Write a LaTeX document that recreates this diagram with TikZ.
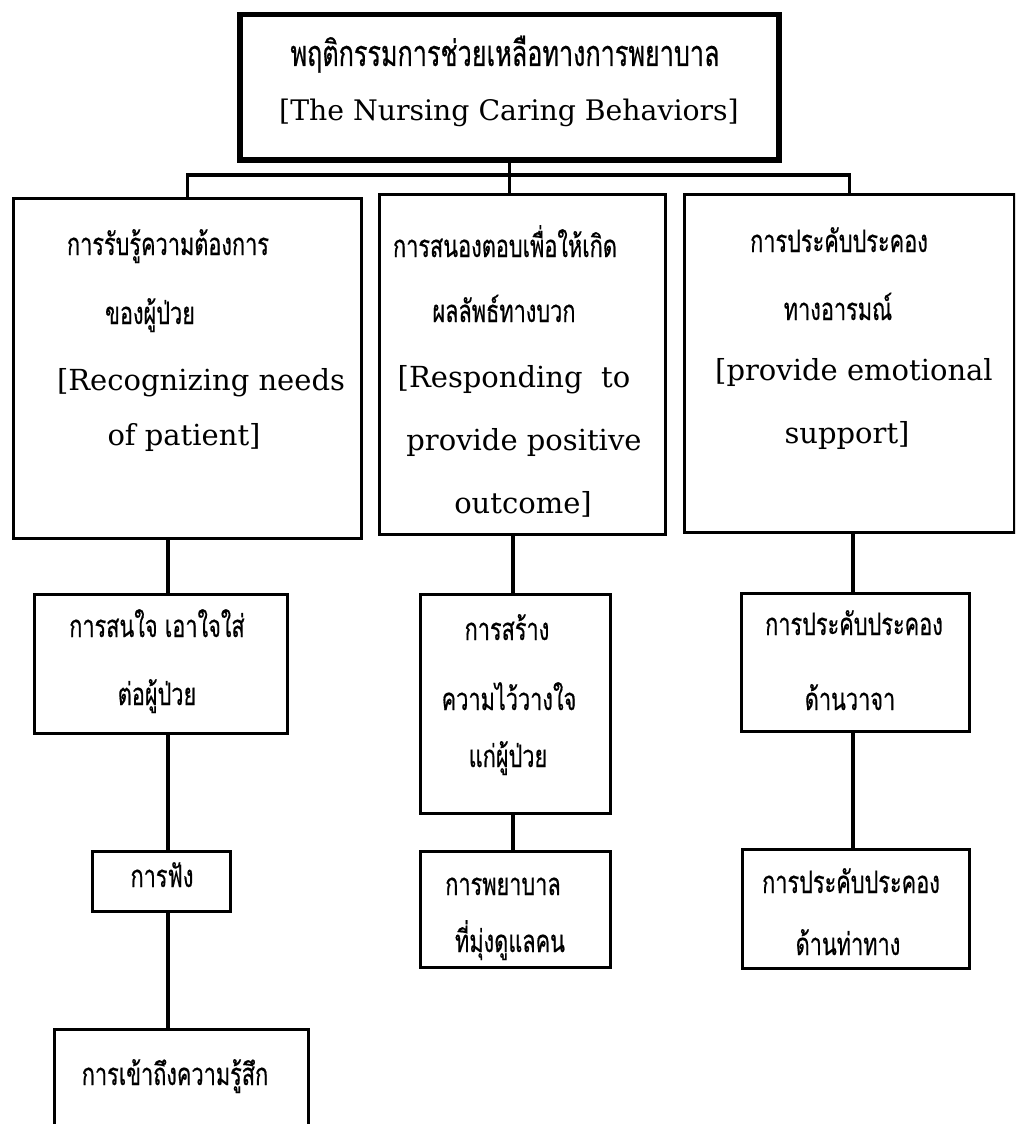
\documentclass[tikz,border=0pt]{standalone}
\usepackage{fontspec}
\setmainfont{DejaVu Serif}
\newfontfamily\thaifont[Script=Thai,FakeStretch=0.7,FakeBold=0.5]{Loma}
\tikzset{
  box/.style={draw, line width=3.2pt, anchor=north west, inner sep=0pt},
  th/.style={font=\thaifont\fontsize{31}{34}\selectfont, anchor=base, inner sep=0pt},
  en/.style={font=\fontsize{29}{34}\selectfont, anchor=base, inner sep=0pt},
  link/.style={line width=3.2pt},
}
\begin{document}
\begin{tikzpicture}[x=1pt,y=-1pt]
  \useasboundingbox (0,0) rectangle (1015,1124);
  \clip (0,0) rectangle (1015,1124);
  % boxes
  \node[box, line width=5.5pt, minimum width=539pt, minimum height=145pt] (top) at (237,12) {};
  \node[box, minimum width=348pt, minimum height=340pt] (recog) at (12,197) {};
  \node[box, minimum width=286pt, minimum height=340pt] (resp) at (378,193) {};
  \node[box, minimum width=330pt, minimum height=338pt] (emo) at (683,193) {};
  \node[box, minimum width=253pt, minimum height=139pt] (attend) at (33,593) {};
  \node[box, minimum width=190pt, minimum height=219pt] (trust) at (419,593) {};
  \node[box, minimum width=228pt, minimum height=138pt] (verbal) at (740,592) {};
  \node[box, minimum width=138pt, minimum height=60pt] (listen) at (91,850) {};
  \node[box, minimum width=190pt, minimum height=116pt] (nursing) at (419,850) {};
  \node[box, minimum width=227pt, minimum height=119pt] (gesture) at (741,848) {};
  \node[box, minimum width=254pt, minimum height=140pt] (feel) at (53,1028) {};
  % texts
  \node[th, font=\thaifont\fontsize{36}{40}\selectfont] (topth) at (505,66) {พฤติกรรมการช่วยเหลือทางการพยาบาล};
  \node[en, font=\fontsize{28.3}{34}\selectfont] (topen) at (509,120) {[The Nursing Caring Behaviors]};
  \node[th] (recog1) at (168,255) {การรับรู้ความต้องการ};
  \node[th] (recog2) at (150,324) {ของผู้ป่วย};
  \node[en] (recog3) at (201,390) {[Recognizing needs};
  \node[en] (recog4) at (184,445) {of patient]};
  \node[th] (resp1) at (505,257) {การสนองตอบเพื่อให้เกิด};
  \node[th] (resp2) at (504,322) {ผลลัพธ์ทางบวก};
  \node[en] (resp3) at (514,387) {[Responding\ \ to};
  \node[en] (resp4) at (524,450) {provide positive};
  \node[en] (resp5) at (523,513) {outcome]};
  \node[th] (emo1) at (839,252) {การประคับประคอง};
  \node[th] (emo2) at (838,320) {ทางอารมณ์};
  \node[en] (emo3) at (854,380) {[provide emotional};
  \node[en] (emo4) at (847,443) {support]};
  \node[th] (attend1) at (157,637) {การสนใจ เอาใจใส่};
  \node[th] (attend2) at (157,705) {ต่อผู้ป่วย};
  \node[th] (trust1) at (507,640) {การสร้าง};
  \node[th] (trust2) at (509,710) {ความไว้วางใจ};
  \node[th] (trust3) at (508,767) {แก่ผู้ป่วย};
  \node[th] (verbal1) at (854,635) {การประคับประคอง};
  \node[th] (verbal2) at (850,710) {ด้านวาจา};
  \node[th] (listen1) at (162,887) {การฟัง};
  \node[th] (nursing1) at (503,895) {การพยาบาล};
  \node[th] (nursing2) at (510,952) {ที่มุ่งดูแลคน};
  \node[th] (gesture1) at (851,893) {การประคับประคอง};
  \node[th] (gesture2) at (848,955) {ด้านท่าทาง};
  \node[th] (feel1) at (175,1085) {การเข้าถึงความรู้สึก};
  % connectors
  \coordinate (bar) at (0,175);
  \coordinate (cl) at (168,0);
  \coordinate (cm) at (513,0);
  \coordinate (cr) at (853,0);
  \draw[link] (top.south) -- (top.south |- resp.north);
  \draw[link] (recog.north) -- (recog.north |- bar) -- (emo.north |- bar) -- (emo.north);
  \draw[link] (recog.south -| cl) -- (attend.north -| cl);
  \draw[link] (attend.south -| cl) -- (listen.north -| cl);
  \draw[link] (listen.south -| cl) -- (feel.north -| cl);
  \draw[link] (resp.south -| cm) -- (trust.north -| cm);
  \draw[link] (trust.south -| cm) -- (nursing.north -| cm);
  \draw[link] (emo.south -| cr) -- (verbal.north -| cr);
  \draw[link] (verbal.south -| cr) -- (gesture.north -| cr);
\end{tikzpicture}
\end{document}
